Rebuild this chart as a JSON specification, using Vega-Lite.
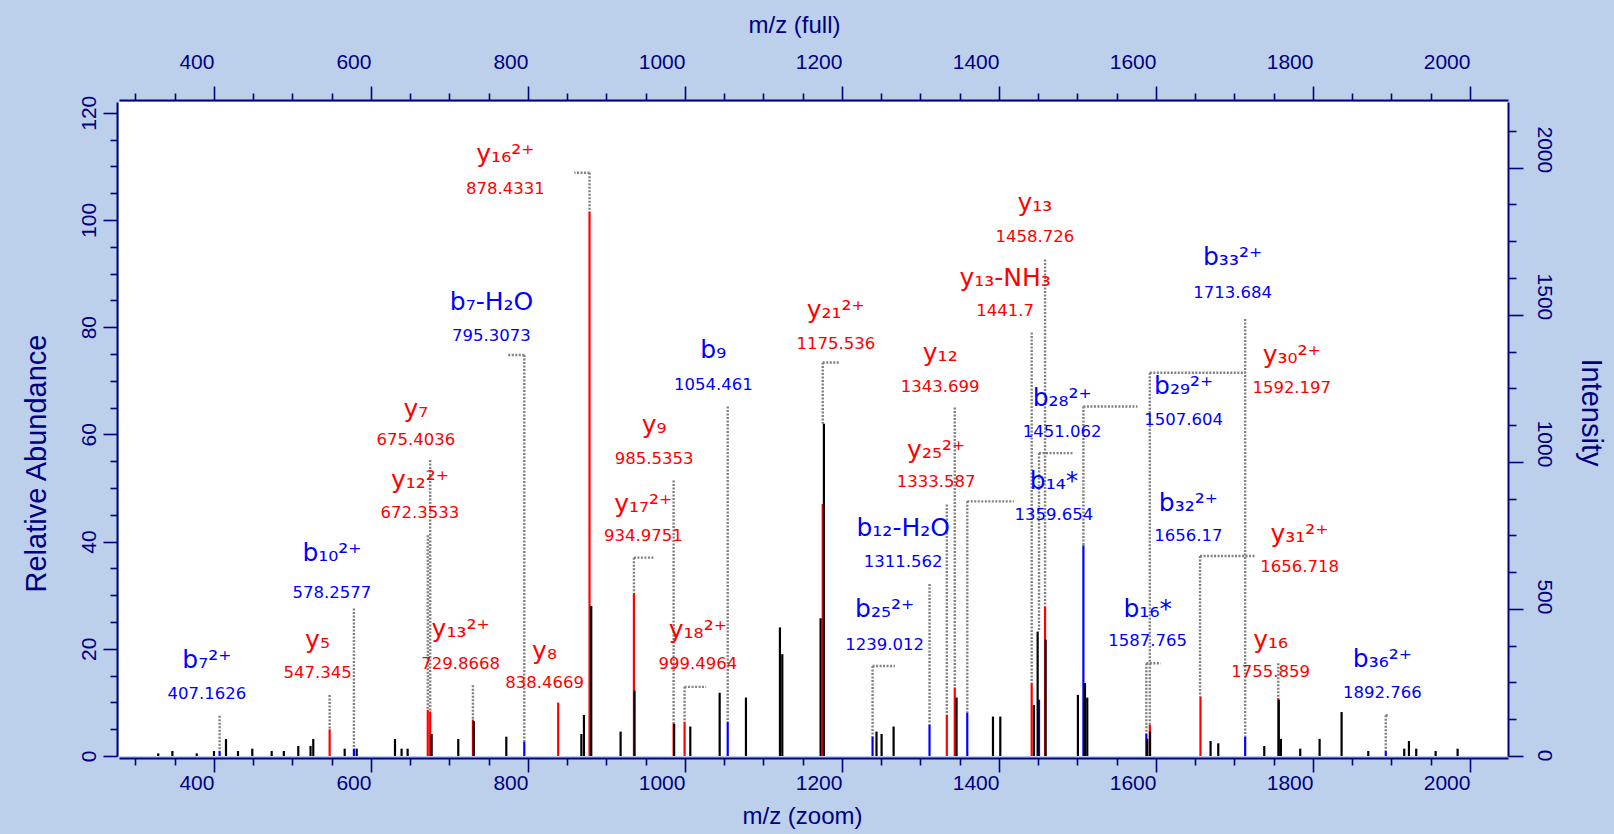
{
  "$schema": "https://vega.github.io/schema/vega-lite/v6.json",
  "width": 1389,
  "height": 654,
  "autosize": {"type": "none"},
  "padding": {"left": 119, "top": 102, "right": 106, "bottom": 78},
  "background": "#bdd0eb",
  "config": {
    "view": {"stroke": null, "fill": "white"},
    "axis": {
      "domainColor": "#000080", "domainWidth": 2, "tickColor": "#000080", "tickWidth": 1.6,
      "labelColor": "#000080", "labelFont": "Liberation Sans Narrow, Liberation Sans", "labelFontSize": 21,
      "titleColor": "#000080", "titleFont": "Liberation Sans", "titleFontSize": 24, "titleFontWeight": "normal",
      "grid": false, "labelOverlap": false, "labelFlush": false, "labelBound": false
    }
  },
  "datasets": {
    "peaks": [
      {"mz": 547.35, "h": 4.98, "c": "r"},
      {"mz": 672.35, "h": 8.6, "c": "r"},
      {"mz": 675.40, "h": 8.3, "c": "r"},
      {"mz": 729.87, "h": 6.8, "c": "r"},
      {"mz": 838.47, "h": 9.97, "c": "r"},
      {"mz": 878.43, "h": 101.5, "c": "r"},
      {"mz": 934.98, "h": 30.4, "c": "r"},
      {"mz": 985.54, "h": 6.1, "c": "r"},
      {"mz": 999.50, "h": 6.4, "c": "r"},
      {"mz": 1175.54, "h": 47.0, "c": "r"},
      {"mz": 1333.59, "h": 7.66, "c": "r"},
      {"mz": 1343.70, "h": 12.8, "c": "r"},
      {"mz": 1441.70, "h": 13.6, "c": "r"},
      {"mz": 1458.73, "h": 27.9, "c": "r"},
      {"mz": 1592.20, "h": 5.8, "c": "r"},
      {"mz": 1656.72, "h": 11.1, "c": "r"},
      {"mz": 1755.86, "h": 10.8, "c": "r"},
      {"mz": 407.16, "h": 0.93, "c": "b"},
      {"mz": 578.26, "h": 1.37, "c": "b"},
      {"mz": 795.31, "h": 2.68, "c": "b"},
      {"mz": 1054.46, "h": 6.4, "c": "b"},
      {"mz": 1239.01, "h": 3.6, "c": "b"},
      {"mz": 1311.56, "h": 5.8, "c": "b"},
      {"mz": 1359.65, "h": 8.1, "c": "b"},
      {"mz": 1451.06, "h": 10.5, "c": "b"},
      {"mz": 1507.60, "h": 39.3, "c": "b"},
      {"mz": 1587.77, "h": 4.2, "c": "b"},
      {"mz": 1713.68, "h": 3.6, "c": "b"},
      {"mz": 1892.77, "h": 0.93, "c": "b"},
      {"mz": 329, "h": 0.5, "c": "k"},
      {"mz": 347, "h": 0.93, "c": "k"},
      {"mz": 378, "h": 0.5, "c": "k"},
      {"mz": 400, "h": 0.93, "c": "k"},
      {"mz": 415.3, "h": 3.18, "c": "k"},
      {"mz": 430.6, "h": 0.93, "c": "k"},
      {"mz": 448.8, "h": 1.37, "c": "k"},
      {"mz": 473.5, "h": 0.93, "c": "k"},
      {"mz": 489, "h": 0.93, "c": "k"},
      {"mz": 507.4, "h": 1.87, "c": "k"},
      {"mz": 523, "h": 1.87, "c": "k"},
      {"mz": 526.5, "h": 3.18, "c": "k"},
      {"mz": 566.5, "h": 1.37, "c": "k"},
      {"mz": 581.8, "h": 1.37, "c": "k"},
      {"mz": 630.6, "h": 3.18, "c": "k"},
      {"mz": 639, "h": 1.37, "c": "k"},
      {"mz": 646.7, "h": 1.37, "c": "k"},
      {"mz": 677.3, "h": 4.1, "c": "k"},
      {"mz": 711.2, "h": 3.18, "c": "k"},
      {"mz": 731.0, "h": 6.5, "c": "k"},
      {"mz": 772.4, "h": 3.6, "c": "k"},
      {"mz": 868, "h": 4.1, "c": "k"},
      {"mz": 871.3, "h": 7.66, "c": "k"},
      {"mz": 880.6, "h": 28.0, "c": "k"},
      {"mz": 918, "h": 4.55, "c": "k"},
      {"mz": 935.8, "h": 12.2, "c": "k"},
      {"mz": 986.2, "h": 6.0, "c": "k"},
      {"mz": 1006.8, "h": 5.5, "c": "k"},
      {"mz": 1044.2, "h": 11.8, "c": "k"},
      {"mz": 1077.7, "h": 10.9, "c": "k"},
      {"mz": 1121, "h": 24.0, "c": "k"},
      {"mz": 1124, "h": 19.0, "c": "k"},
      {"mz": 1172.8, "h": 25.7, "c": "k"},
      {"mz": 1177, "h": 62.0, "c": "k"},
      {"mz": 1244, "h": 4.55, "c": "k"},
      {"mz": 1250.5, "h": 4.1, "c": "k"},
      {"mz": 1265.8, "h": 5.5, "c": "k"},
      {"mz": 1346, "h": 10.9, "c": "k"},
      {"mz": 1392.4, "h": 7.35, "c": "k"},
      {"mz": 1401.7, "h": 7.35, "c": "k"},
      {"mz": 1444.6, "h": 9.5, "c": "k"},
      {"mz": 1449.3, "h": 23.2, "c": "k"},
      {"mz": 1459.5, "h": 21.7, "c": "k"},
      {"mz": 1500.6, "h": 11.4, "c": "k"},
      {"mz": 1509.6, "h": 13.6, "c": "k"},
      {"mz": 1512.5, "h": 10.9, "c": "k"},
      {"mz": 1589, "h": 3.2, "c": "k"},
      {"mz": 1592.5, "h": 4.55, "c": "k"},
      {"mz": 1669.6, "h": 2.8, "c": "k"},
      {"mz": 1679.4, "h": 2.37, "c": "k"},
      {"mz": 1738, "h": 1.87, "c": "k"},
      {"mz": 1756.5, "h": 10.5, "c": "k"},
      {"mz": 1759.2, "h": 3.2, "c": "k"},
      {"mz": 1783.8, "h": 1.37, "c": "k"},
      {"mz": 1808.5, "h": 3.2, "c": "k"},
      {"mz": 1836.5, "h": 8.2, "c": "k"},
      {"mz": 1870.5, "h": 0.93, "c": "k"},
      {"mz": 1916.3, "h": 1.37, "c": "k"},
      {"mz": 1922.3, "h": 2.8, "c": "k"},
      {"mz": 1931.6, "h": 1.37, "c": "k"},
      {"mz": 1956.3, "h": 0.93, "c": "k"},
      {"mz": 1984.3, "h": 1.37, "c": "k"}
    ],
    "leaders": [
      {"mz": 407.16, "base": 0.93, "top": 7.5},
      {"mz": 547.35, "base": 4.98, "top": 11.4},
      {"mz": 578.26, "base": 1.37, "top": 27.5},
      {"mz": 675.40, "base": 8.3, "top": 55.2},
      {"mz": 672.35, "base": 8.6, "top": 41.2},
      {"mz": 729.87, "base": 6.8, "top": 13.2},
      {"mz": 795.31, "base": 2.68, "top": 74.8, "x2": 773.9},
      {"mz": 878.43, "base": 101.5, "top": 108.8, "x2": 859.1},
      {"mz": 934.98, "base": 30.4, "top": 37.0, "x2": 961.4},
      {"mz": 985.54, "base": 6.1, "top": 51.4},
      {"mz": 999.50, "base": 6.4, "top": 12.9, "x2": 1027},
      {"mz": 1054.46, "base": 6.4, "top": 65.2},
      {"mz": 1175.54, "base": 62.0, "top": 73.4, "x2": 1197.4},
      {"mz": 1239.01, "base": 3.6, "top": 16.8, "x2": 1267.5},
      {"mz": 1311.56, "base": 5.8, "top": 32.1},
      {"mz": 1333.59, "base": 7.66, "top": 46.9},
      {"mz": 1343.70, "base": 12.8, "top": 65.0},
      {"mz": 1359.65, "base": 8.1, "top": 47.5, "x2": 1419.0},
      {"mz": 1441.70, "base": 13.6, "top": 79.0},
      {"mz": 1458.73, "base": 27.9, "top": 92.6},
      {"mz": 1451.06, "base": 23.2, "top": 56.5, "x2": 1495.1},
      {"mz": 1507.60, "base": 39.3, "top": 65.2, "x2": 1576.4},
      {"mz": 1713.68, "base": 3.6, "top": 81.5},
      {"mz": 1592.20, "base": 5.8, "top": 71.5, "x2": 1714.0},
      {"mz": 1587.77, "base": 4.2, "top": 17.3, "x2": 1606},
      {"mz": 1656.17, "base": 11.1, "top": 37.3, "x2": 1727.1},
      {"mz": 1755.86, "base": 10.8, "top": 17.3},
      {"mz": 1892.77, "base": 0.93, "top": 7.6, "x2": 1896.8}
    ],
    "labels": [
      {"mz": 391.0, "yi": 17.94, "yv": 11.61, "ion": "b₇²⁺", "val": "407.1626", "c": "b"},
      {"mz": 531.9, "yi": 21.59, "yv": 15.45, "ion": "y₅", "val": "547.345", "c": "r"},
      {"mz": 550.3, "yi": 37.91, "yv": 30.42, "ion": "b₁₀²⁺", "val": "578.2577", "c": "b"},
      {"mz": 657.2, "yi": 64.79, "yv": 59.03, "ion": "y₇", "val": "675.4036", "c": "r"},
      {"mz": 662.4, "yi": 51.54, "yv": 45.4, "ion": "y₁₂²⁺", "val": "672.3533", "c": "r"},
      {"mz": 714.2, "yi": 23.7, "yv": 17.17, "ion": "y₁₃²⁺", "val": "729.8668", "c": "r"},
      {"mz": 753.5, "yi": 84.76, "yv": 78.42, "ion": "b₇-H₂O", "val": "795.3073", "c": "b"},
      {"mz": 821.1, "yi": 19.67, "yv": 13.53, "ion": "y₈", "val": "838.4669", "c": "r"},
      {"mz": 771.2, "yi": 112.22, "yv": 105.69, "ion": "y₁₆²⁺", "val": "878.4331", "c": "r"},
      {"mz": 946.9, "yi": 46.94, "yv": 40.98, "ion": "y₁₇²⁺", "val": "934.9751", "c": "r"},
      {"mz": 960.7, "yi": 61.72, "yv": 55.38, "ion": "y₉", "val": "985.5353", "c": "r"},
      {"mz": 1016.4, "yi": 23.51, "yv": 17.17, "ion": "y₁₈²⁺", "val": "999.4964", "c": "r"},
      {"mz": 1036.1, "yi": 75.74, "yv": 69.21, "ion": "b₉", "val": "1054.461", "c": "b"},
      {"mz": 1192.1, "yi": 83.23, "yv": 76.89, "ion": "y₂₁²⁺", "val": "1175.536", "c": "r"},
      {"mz": 1254.4, "yi": 27.35, "yv": 20.63, "ion": "b₂₅²⁺", "val": "1239.012", "c": "b"},
      {"mz": 1278.0, "yi": 42.52, "yv": 36.18, "ion": "b₁₂-H₂O", "val": "1311.562", "c": "b"},
      {"mz": 1320.0, "yi": 57.11, "yv": 51.16, "ion": "y₂₅²⁺", "val": "1333.587", "c": "r"},
      {"mz": 1325.2, "yi": 75.16, "yv": 68.82, "ion": "y₁₂", "val": "1343.699", "c": "r"},
      {"mz": 1470.1, "yi": 51.35, "yv": 45.02, "ion": "b₁₄*", "val": "1359.654", "c": "b"},
      {"mz": 1407.9, "yi": 89.18, "yv": 83.03, "ion": "y₁₃-NH₃", "val": "1441.7", "c": "r"},
      {"mz": 1445.9, "yi": 103.19, "yv": 96.86, "ion": "y₁₃", "val": "1458.726", "c": "r"},
      {"mz": 1480.6, "yi": 66.71, "yv": 60.38, "ion": "b₂₈²⁺", "val": "1451.062", "c": "b"},
      {"mz": 1635.3, "yi": 69.02, "yv": 62.68, "ion": "b₂₉²⁺", "val": "1507.604", "c": "b"},
      {"mz": 1697.6, "yi": 93.02, "yv": 86.3, "ion": "b₃₃²⁺", "val": "1713.684", "c": "b"},
      {"mz": 1773.0, "yi": 74.78, "yv": 68.63, "ion": "y₃₀²⁺", "val": "1592.197", "c": "r"},
      {"mz": 1589.5, "yi": 27.35, "yv": 21.4, "ion": "b₁₆*", "val": "1587.765", "c": "b"},
      {"mz": 1641.3, "yi": 47.13, "yv": 40.98, "ion": "b₃₂²⁺", "val": "1656.17", "c": "b"},
      {"mz": 1782.9, "yi": 41.37, "yv": 35.22, "ion": "y₃₁²⁺", "val": "1656.718", "c": "r"},
      {"mz": 1746.2, "yi": 21.59, "yv": 15.64, "ion": "y₁₆", "val": "1755.859", "c": "r"},
      {"mz": 1888.4, "yi": 18.13, "yv": 11.8, "ion": "b₃₆²⁺", "val": "1892.766", "c": "b"}
    ],
    "axisdummy": [{"a": 1000, "b": 60, "i": 1000}]
  },
  "layer": [
    {
      "layer": [
        {
          "data": {"name": "leaders"},
          "mark": {"type": "rule", "color": "#808080", "strokeWidth": 2.4, "strokeDash": [2, 1.5]},
          "encoding": {
            "x": {"field": "mz", "type": "quantitative", "scale": {"domain": [279, 2048.5], "nice": false, "zero": false}, "axis": null},
            "y": {"field": "top", "type": "quantitative", "scale": {"domain": [0, 122], "nice": false}, "axis": null},
            "y2": {"field": "base"}
          }
        },
        {
          "data": {"name": "leaders"},
          "transform": [{"filter": "isValid(datum.x2)"}],
          "mark": {"type": "rule", "color": "#808080", "strokeWidth": 2.4, "strokeDash": [2, 1.5]},
          "encoding": {
            "x": {"field": "mz", "type": "quantitative", "axis": null},
            "x2": {"field": "x2"},
            "y": {"field": "top", "type": "quantitative", "axis": null}
          }
        },
        {
          "data": {"name": "peaks"},
          "mark": {"type": "rule", "strokeWidth": 2.2},
          "encoding": {
            "x": {"field": "mz", "type": "quantitative", "axis": null},
            "y": {"field": "h", "type": "quantitative", "axis": null},
            "y2": {"datum": 0},
            "color": {"field": "c", "type": "nominal", "scale": {"domain": ["r", "b", "k"], "range": ["#ff0000", "#0000ff", "#000000"]}, "legend": null}
          }
        },
        {
          "data": {"name": "labels"},
          "mark": {"type": "text", "font": "DejaVu Sans", "fontSize": 25, "align": "center", "baseline": "middle"},
          "encoding": {
            "x": {"field": "mz", "type": "quantitative", "axis": null},
            "y": {"field": "yi", "type": "quantitative", "axis": null},
            "text": {"field": "ion"},
            "color": {"field": "c", "type": "nominal", "scale": {"domain": ["r", "b", "k"], "range": ["#ff0000", "#0000ff", "#000000"]}, "legend": null}
          }
        },
        {
          "data": {"name": "labels"},
          "mark": {"type": "text", "font": "DejaVu Sans", "fontSize": 16.5, "align": "center", "baseline": "middle"},
          "encoding": {
            "x": {"field": "mz", "type": "quantitative", "axis": null},
            "y": {"field": "yv", "type": "quantitative", "axis": null},
            "text": {"field": "val"},
            "color": {"field": "c", "type": "nominal", "scale": {"domain": ["r", "b", "k"], "range": ["#ff0000", "#0000ff", "#000000"]}, "legend": null}
          }
        }
      ]
    },
    {
      "data": {"name": "axisdummy"},
      "mark": {"type": "point", "opacity": 0},
      "encoding": {
        "x": {"field": "a", "type": "quantitative", "scale": {"domain": [279, 2048.5], "nice": false, "zero": false},
          "axis": {"orient": "bottom", "title": "m/z (zoom)", "offset": 2, "format": "d",
            "values": [300,350,400,450,500,550,600,650,700,750,800,850,900,950,1000,1050,1100,1150,1200,1250,1300,1350,1400,1450,1500,1550,1600,1650,1700,1750,1800,1850,1900,1950,2000],
            "labelExpr": "datum.value % 200 === 0 ? datum.label : ''",
            "tickSize": {"condition": {"test": "datum.value % 200 === 0", "value": 14}, "value": 7},
            "labelAlign": "right", "labelBaseline": "top", "labelPadding": 0,
            "titleX": 683, "titleY": 58, "titleBaseline": "middle", "titleAnchor": "middle"}},
        "y": {"field": "b", "type": "quantitative", "scale": {"domain": [0, 122], "nice": false},
          "axis": {"orient": "left", "title": "Relative Abundance", "offset": 2, "format": "d",
            "values": [0,5,10,15,20,25,30,35,40,45,50,55,60,65,70,75,80,85,90,95,100,105,110,115,120],
            "labelExpr": "datum.value % 20 === 0 ? datum.label : ''",
            "tickSize": {"condition": {"test": "datum.value % 20 === 0", "value": 14}, "value": 7},
            "labelAngle": -90, "labelAlign": "center", "labelBaseline": "bottom", "labelPadding": 4,
            "titleFontSize": 29,
            "titleX": -81, "titleY": 361, "titleAngle": -90, "titleBaseline": "middle", "titleAnchor": "middle"}}
      }
    },
    {
      "data": {"name": "axisdummy"},
      "mark": {"type": "point", "opacity": 0},
      "encoding": {
        "x": {"field": "a", "type": "quantitative", "scale": {"domain": [279, 2048.5], "nice": false, "zero": false},
          "axis": {"orient": "top", "title": "m/z (full)", "offset": 2, "format": "d",
            "values": [300,350,400,450,500,550,600,650,700,750,800,850,900,950,1000,1050,1100,1150,1200,1250,1300,1350,1400,1450,1500,1550,1600,1650,1700,1750,1800,1850,1900,1950,2000],
            "labelExpr": "datum.value % 200 === 0 ? datum.label : ''",
            "tickSize": {"condition": {"test": "datum.value % 200 === 0", "value": 14}, "value": 7},
            "labelAlign": "right", "labelBaseline": "bottom", "labelPadding": 14,
            "titleX": 675, "titleY": -75, "titleBaseline": "middle", "titleAnchor": "middle"}},
        "y": {"field": "i", "type": "quantitative", "scale": {"domain": [0, 2223.4], "nice": false},
          "axis": {"orient": "right", "title": "Intensity", "offset": 0, "format": "d",
            "values": [0,125,250,375,500,625,750,875,1000,1125,1250,1375,1500,1625,1750,1875,2000,2125],
            "labelExpr": "datum.value % 500 === 0 ? datum.label : ''",
            "tickSize": {"condition": {"test": "datum.value % 500 === 0", "value": 15}, "value": 8},
            "labelAngle": 90, "labelAlign": "right", "labelBaseline": "bottom", "labelPadding": 10, "labelOffset": 5,
            "titleFontSize": 29,
            "titleX": 82, "titleY": 310, "titleAngle": 90, "titleBaseline": "middle", "titleAnchor": "middle"}}
      }
    }
  ],
  "resolve": {"scale": {"x": "independent", "y": "independent"}, "axis": {"x": "independent", "y": "independent"}}
}
